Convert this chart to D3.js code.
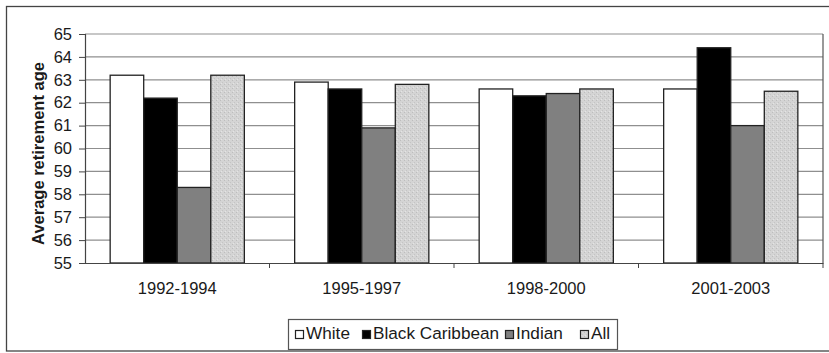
<!DOCTYPE html>
<html>
<head>
<meta charset="utf-8">
<script src="https://cdn.jsdelivr.net/npm/d3@7"></script>
<style>
  html, body { margin: 0; padding: 0; background: #fff; }
  svg { display: block; }
  text { font-family: "Liberation Sans", Arial, sans-serif; fill: #1a1a1a; }
</style>
</head>
<body>
<svg id="chart" width="829" height="353"></svg>
<script>
// Retirement age by period and ethnic group
const periods = ["1992-1994", "1995-1997", "1998-2000", "2001-2003"];
const groups = ["White", "Black Caribbean", "Indian", "All"];
const white = [63.2, 62.9, 62.6, 62.6];
const blackCaribbean = [62.2, 62.6, 62.3, 64.4];
const indian = [58.3, 60.9, 62.4, 61.0];
const all = [63.2, 62.8, 62.6, 62.5];
const yTicks = [55, 56, 57, 58, 59, 60, 61, 62, 63, 64, 65];

const seriesValues = [white, blackCaribbean, indian, all];
const fills = ["#ffffff", "#000000", "#808080", "url(#dots)"];

const svg = d3.select("#chart");

// light stippled fill used for the "All" series
const defs = svg.append("defs");
const pat = defs.append("pattern")
  .attr("id", "dots").attr("patternUnits", "userSpaceOnUse")
  .attr("width", 4).attr("height", 4);
pat.append("rect").attr("width", 4).attr("height", 4).attr("fill", "#d4d4d4");
pat.append("rect").attr("x", 0).attr("y", 0).attr("width", 1).attr("height", 1).attr("fill", "#bdbdbd");
pat.append("rect").attr("x", 2).attr("y", 2).attr("width", 1).attr("height", 1).attr("fill", "#c4c4c4");
pat.append("rect").attr("x", 1).attr("y", 3).attr("width", 1).attr("height", 1).attr("fill", "#e4e4e4");

// outer frame
svg.append("rect").attr("x", 6.5).attr("y", 6.5).attr("width", 860).attr("height", 344.5)
  .attr("fill", "none").attr("stroke", "#444").attr("stroke-width", 1.3);

const plotLeft = 85, plotRight = 823, plotTop = 34, plotBottom = 263;
const fontSize = 16.5;

const x = d3.scaleBand().domain(periods).range([plotLeft, plotRight]).paddingInner(0).paddingOuter(0);
const xInner = d3.scaleBand().domain(groups).range([0, x.bandwidth()]).paddingOuter(0.75).paddingInner(0);
const y = d3.scaleLinear().domain([55, 65]).range([plotBottom, plotTop]);

// gridlines
svg.append("g").selectAll("line").data(yTicks.slice(1)).join("line")
  .attr("x1", plotLeft).attr("x2", plotRight)
  .attr("y1", d => y(d)).attr("y2", d => y(d))
  .attr("stroke", "#8f8f8f").attr("stroke-width", 1.2);

// plot border (right edge)
svg.append("line").attr("x1", plotRight).attr("x2", plotRight).attr("y1", plotTop).attr("y2", plotBottom)
  .attr("stroke", "#555").attr("stroke-width", 1.2);

// bars
const barData = [];
periods.forEach((p, i) => {
  groups.forEach((g, j) => barData.push({ period: p, group: g, value: seriesValues[j][i], fill: fills[j] }));
});
svg.append("g").selectAll("rect").data(barData).join("rect")
  .attr("x", d => x(d.period) + xInner(d.group))
  .attr("width", xInner.bandwidth())
  .attr("y", d => y(d.value))
  .attr("height", d => y(55) - y(d.value))
  .attr("fill", d => d.fill)
  .attr("stroke", "#222").attr("stroke-width", 1.3);

// y axis
const yAxis = svg.append("g").attr("transform", `translate(${plotLeft},0)`)
  .call(d3.axisLeft(y).tickValues(yTicks).tickSize(6).tickPadding(7).tickFormat(d3.format("d")));
yAxis.select(".domain").attr("stroke", "#444").attr("stroke-width", 1.2);
yAxis.selectAll(".tick line").attr("stroke", "#444");
yAxis.selectAll("text").attr("font-size", fontSize).attr("fill", "#1a1a1a")
  .attr("font-family", "Liberation Sans, Arial, sans-serif");

// x axis
const xAxis = svg.append("g").attr("transform", `translate(0,${plotBottom})`)
  .call(d3.axisBottom(x).tickSize(0).tickPadding(19));
xAxis.select(".domain").attr("stroke", "#444").attr("stroke-width", 1.2);
xAxis.selectAll("text").attr("font-size", fontSize).attr("fill", "#1a1a1a")
  .attr("font-family", "Liberation Sans, Arial, sans-serif");
// category separator ticks
const sepX = periods.slice(1).map(p => x(p)).concat([plotRight]);
svg.append("g").selectAll("line").data(sepX).join("line")
  .attr("x1", d => d).attr("x2", d => d)
  .attr("y1", plotBottom).attr("y2", plotBottom + 5)
  .attr("stroke", "#444").attr("stroke-width", 1);

// y axis title
svg.append("text")
  .attr("transform", `translate(44,${(plotTop + plotBottom) / 2 + 5}) rotate(-90)`)
  .attr("text-anchor", "middle")
  .attr("font-size", fontSize).attr("font-weight", "bold")
  .text("Average retirement age");

// legend
const lg = svg.append("g");
lg.append("rect").attr("x", 288.5).attr("y", 319.5).attr("width", 329).attr("height", 30)
  .attr("fill", "#fff").attr("stroke", "#555").attr("stroke-width", 1.2);
const legendX = [295, 362, 505, 580];
groups.forEach((g, j) => {
  const item = lg.append("g").attr("transform", `translate(${legendX[j]},0)`);
  item.append("rect").attr("x", 0.5).attr("y", 330.5).attr("width", 8).attr("height", 8)
    .attr("fill", fills[j]).attr("stroke", "#222").attr("stroke-width", 1.2);
  item.append("text").attr("x", 11).attr("y", 339).attr("font-size", 17.2).text(g);
});
</script>
</body>
</html>
